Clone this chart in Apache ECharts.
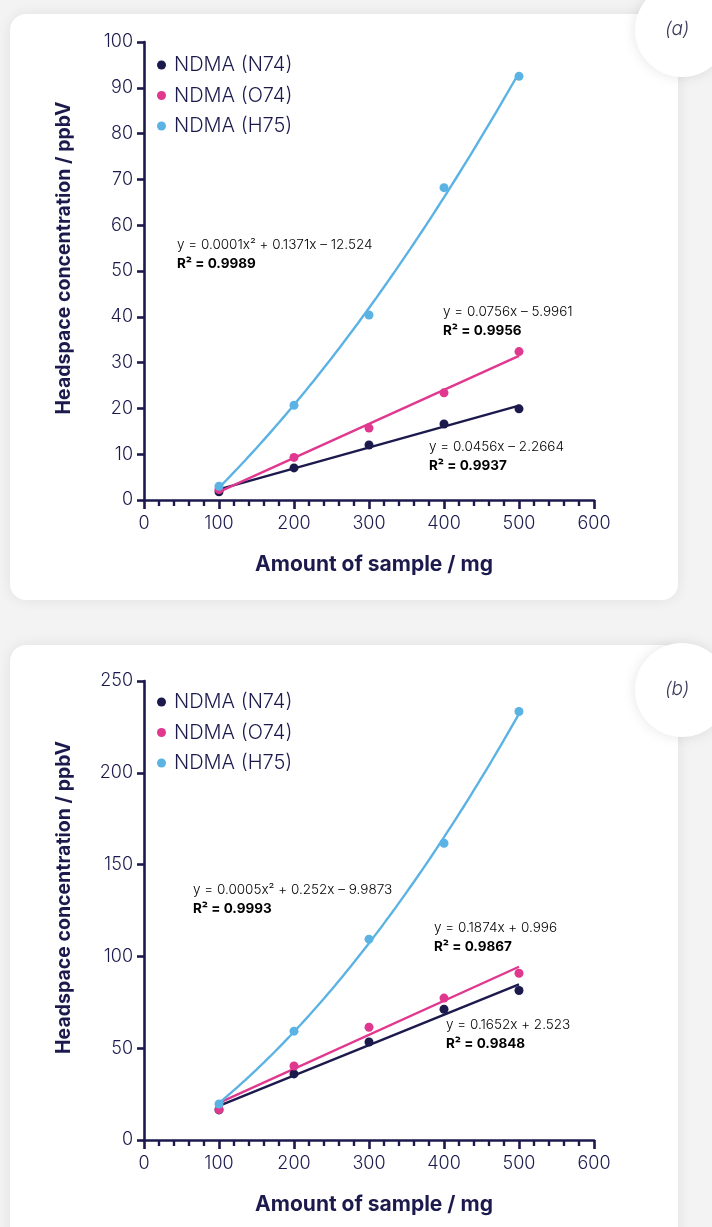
<!DOCTYPE html>
<html>
<head>
<meta charset="utf-8">
<script src="https://cdn.jsdelivr.net/npm/echarts@6/dist/echarts.min.js"></script>
<style>
  html, body { margin: 0; padding: 0; background: #f3f3f3; }
  #chart { width: 712px; height: 1227px; }
</style>
</head>
<body>
<div id="chart"></div>
<script>
// Sample amounts (mg)
const sampleMg = [100, 200, 300, 400, 500];

// Panel (a) headspace concentrations (ppbV)
const aN74 = [1.8, 7.0, 12.0, 16.6, 19.9];
const aO74 = [2.3, 9.3, 15.7, 23.4, 32.4];
const aH75 = [3.0, 20.7, 40.4, 68.2, 92.5];

// Panel (b) headspace concentrations (ppbV)
const bN74 = [16.4, 36.0, 53.4, 71.2, 81.4];
const bO74 = [16.6, 40.3, 61.4, 77.3, 90.8];
const bH75 = [19.6, 59.3, 109.4, 161.6, 233.4];

const seriesNames = ['NDMA (N74)', 'NDMA (O74)', 'NDMA (H75)'];
const xTicks = [0, 100, 200, 300, 400, 500, 600];

// Trendline annotations
const eqA = [
  ['y = 0.0001x² + 0.1371x – 12.524', 'R² = 0.9989'],
  ['y = 0.0756x – 5.9961', 'R² = 0.9956'],
  ['y = 0.0456x – 2.2664', 'R² = 0.9937']
];
const eqB = [
  ['y = 0.0005x² + 0.252x – 9.9873', 'R² = 0.9993'],
  ['y = 0.1874x + 0.996', 'R² = 0.9867'],
  ['y = 0.1652x + 2.523', 'R² = 0.9848']
];

const NAVY = '#1c1a4c';
const PINK = '#e0388f';
const BLUE = '#5bb3e4';
const FONT = 'Inter';

// Least-squares polynomial fit (degree 1 or 2) via normal equations
function polyfit(xs, ys, deg) {
  const n = deg + 1;
  const A = [], b = [];
  for (let i = 0; i < n; i++) {
    A.push([]);
    for (let j = 0; j < n; j++) {
      let s = 0;
      xs.forEach(x => { s += Math.pow(x, i + j); });
      A[i].push(s);
    }
    let t = 0;
    xs.forEach((x, k) => { t += Math.pow(x, i) * ys[k]; });
    b.push(t);
  }
  for (let c = 0; c < n; c++) {
    for (let r = c + 1; r < n; r++) {
      const f = A[r][c] / A[c][c];
      for (let k = c; k < n; k++) A[r][k] -= f * A[c][k];
      b[r] -= f * b[c];
    }
  }
  const coef = new Array(n).fill(0);
  for (let r = n - 1; r >= 0; r--) {
    let s = b[r];
    for (let k = r + 1; k < n; k++) s -= A[r][k] * coef[k];
    coef[r] = s / A[r][r];
  }
  return coef;
}

function fitLine(xs, ys, deg) {
  const c = polyfit(xs, ys, deg);
  const lo = xs[0], hi = xs[xs.length - 1];
  const pts = [];
  const step = deg === 1 ? (hi - lo) : 5;
  for (let x = lo; x <= hi + 1e-9; x += step) {
    let y = 0;
    c.forEach((v, i) => { y += v * Math.pow(x, i); });
    pts.push([x, y]);
  }
  return pts;
}

const pair = ys => sampleMg.map((x, i) => [x, ys[i]]);

function scatter(name, ys, color, idx) {
  return {
    name, type: 'scatter', xAxisIndex: idx, yAxisIndex: idx,
    data: pair(ys), symbolSize: 9, itemStyle: { color, opacity: 1 }, z: 5
  };
}
function trend(ys, color, deg, idx) {
  return {
    name: 'fit', type: 'line', xAxisIndex: idx, yAxisIndex: idx,
    data: fitLine(sampleMg, ys, deg), showSymbol: false, symbol: 'none',
    lineStyle: { color, width: 2.4 }, smooth: false, z: 3, silent: true
  };
}

function xAxis(gridIndex) {
  return {
    type: 'value', gridIndex, min: xTicks[0], max: xTicks[xTicks.length - 1], interval: 100,
    name: 'Amount of sample / mg', nameLocation: 'middle', nameGap: 54,
    nameTextStyle: { fontFamily: FONT, fontWeight: 'bold', fontSize: 21, color: NAVY, padding: [0, 0, 0, 10] },
    axisLine: { show: true, onZero: false, lineStyle: { color: NAVY, width: 2.6 } },
    axisTick: { show: true, length: 9, lineStyle: { color: NAVY, width: 2.6 } },
    minorTick: { show: true, splitNumber: 5, length: 6, lineStyle: { color: NAVY, width: 2.4 } },
    axisLabel: { fontFamily: FONT, fontWeight: 300, fontSize: 18, color: NAVY, margin: 15 },
    splitLine: { show: false }
  };
}
function yAxis(gridIndex, max, interval) {
  return {
    type: 'value', gridIndex, min: 0, max, interval,
    name: 'Headspace concentration / ppbV', nameLocation: 'middle', nameGap: 70,
    nameTextStyle: { fontFamily: FONT, fontWeight: 'bold', fontSize: 19.5, color: NAVY, padding: [0, 0, 0, 26] },
    axisLine: { show: true, lineStyle: { color: NAVY, width: 2.6 } },
    axisTick: { show: true, length: 7, lineStyle: { color: NAVY, width: 2.6 } },
    axisLabel: { fontFamily: FONT, fontWeight: 300, fontSize: 18, color: NAVY, margin: 11 },
    splitLine: { show: false }
  };
}

function legend(top) {
  return {
    data: seriesNames, orient: 'vertical', left: 152, top,
    icon: 'circle', itemWidth: 9, itemHeight: 9, itemGap: 10.5,
    textStyle: { fontFamily: FONT, fontWeight: 300, fontSize: 20, color: NAVY, padding: [0, 0, 0, 3] },
    selectedMode: false
  };
}

function eqText(lines, x, y) {
  return {
    type: 'text', left: x, top: y, z: 10,
    style: {
      text: '{a|' + lines[0] + '}\n{b|' + lines[1] + '}',
      rich: {
        a: { fontFamily: FONT, fontWeight: 300, fontSize: 13.5, color: NAVY, lineHeight: 19 },
        b: { fontFamily: FONT, fontSize: 13.5, fontWeight: 'bold', color: NAVY, lineHeight: 19 }
      }
    }
  };
}

function card(y, h) {
  return {
    type: 'rect', shape: { x: 10, y, width: 668, height: h, r: 16 }, z: -10,
    style: { fill: '#ffffff', shadowBlur: 14, shadowColor: 'rgba(0,0,0,0.08)' }
  };
}
function badge(cy, label) {
  return [
    { type: 'circle', shape: { cx: 682, cy, r: 47 }, z: -5,
      style: { fill: '#ffffff', shadowBlur: 14, shadowColor: 'rgba(0,0,0,0.10)' } },
    { type: 'text', left: 665, top: cy - 10, z: -4,
      style: { text: label, fontFamily: FONT, fontWeight: 300, fontStyle: 'italic', fontSize: 19, fill: '#3a3a5a' } }
  ];
}

const chart = echarts.init(document.getElementById('chart'), null, { renderer: 'canvas' });
chart.setOption({
  animation: false,
  backgroundColor: '#f3f3f3',
  grid: [
    { left: 144, top: 42, width: 450, height: 458 },
    { left: 144, top: 681, width: 450, height: 459 }
  ],
  xAxis: [xAxis(0), xAxis(1)],
  yAxis: [yAxis(0, 100, 10), yAxis(1, 250, 50)],
  legend: [legend(50), legend(687)],
  graphic: [
    card(14, 586), card(645, 620),
    ...badge(30, '(a)'), ...badge(690, '(b)'),
    eqText(eqA[0], 177, 238), eqText(eqA[1], 443, 305), eqText(eqA[2], 429, 440),
    eqText(eqB[0], 193, 883), eqText(eqB[1], 434, 921), eqText(eqB[2], 446, 1018)
  ],
  series: [
    trend(aN74, NAVY, 1, 0), trend(aO74, PINK, 1, 0), trend(aH75, BLUE, 2, 0),
    scatter(seriesNames[0], aN74, NAVY, 0), scatter(seriesNames[1], aO74, PINK, 0), scatter(seriesNames[2], aH75, BLUE, 0),
    trend(bN74, NAVY, 1, 1), trend(bO74, PINK, 1, 1), trend(bH75, BLUE, 2, 1),
    scatter(seriesNames[0], bN74, NAVY, 1), scatter(seriesNames[1], bO74, PINK, 1), scatter(seriesNames[2], bH75, BLUE, 1)
  ]
});
</script>
</body>
</html>
